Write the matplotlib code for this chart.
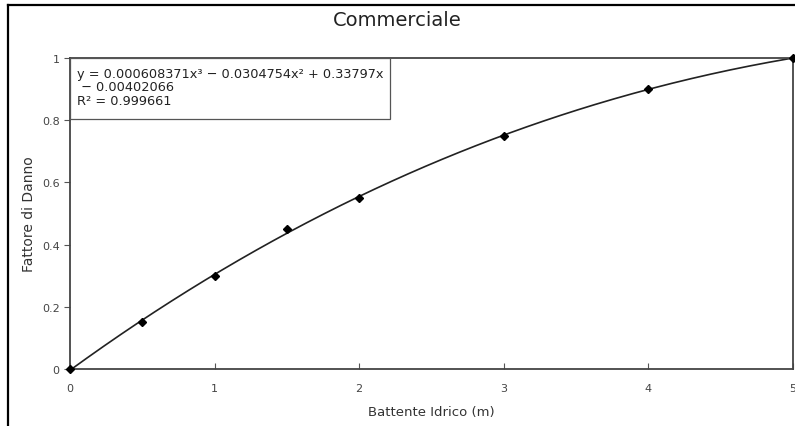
import numpy as np
import matplotlib.pyplot as plt
from matplotlib.lines import Line2D
from matplotlib.patches import Rectangle

# dati
battente = [0, 0.5, 1, 1.5, 2, 3, 4, 5]
fattore = [0, 0.15, 0.3, 0.45, 0.55, 0.75, 0.9, 1.0]
coeff = [0.000608371, -0.0304754, 0.33797, -0.00402066]
r2 = 0.999661
x_ticks = [0, 1, 2, 3, 4, 5]
y_ticks = [0, 0.2, 0.4, 0.6, 0.8, 1]

plt.rcParams['font.family'] = 'DejaVu Sans'

fig = plt.figure(figsize=(7.95, 4.27), dpi=100)
ax = fig.add_axes([0.088, 0.1335, 0.9095, 0.7283])

# cornice dello screenshot
fig.add_artist(Line2D([0.0105, 0.0105], [0, 0.986], transform=fig.transFigure,
                      color='black', lw=1.6))
fig.add_artist(Line2D([0.0105, 1.0], [0.986, 0.986], transform=fig.transFigure,
                      color='black', lw=1.6))

xs = np.linspace(0, 5, 300)
ax.plot(xs, np.polyval(coeff, xs), color='#222222', lw=1.2, zorder=2)
ax.plot(battente, fattore, 'D', color='black', ms=4, zorder=3, clip_on=False)

ax.set_xlim(0, 5)
ax.set_ylim(0, 1)
ax.set_xticks(x_ticks)
ax.set_xticklabels([str(t) for t in x_ticks])
ax.set_yticks(y_ticks)
ax.set_yticklabels(['0', '0.2', '0.4', '0.6', '0.8', '1'])
ax.tick_params(axis='x', direction='in', length=4, colors='#555555',
               labelsize=8, labelcolor='#444444', pad=10)
ax.tick_params(axis='y', direction='out', length=4, colors='#555555',
               labelsize=8, labelcolor='#444444')
for s in ax.spines.values():
    s.set_color('#444444')
    s.set_linewidth(1.3)

fig.text(0.5, 0.953, 'Commerciale', fontsize=14, color='#222222',
         ha='center', va='center')
ax.set_xlabel('Battente Idrico (m)', fontsize=9.5, color='#333333', labelpad=9)
ax.set_ylabel('Fattore di Danno', fontsize=10, color='#333333')
ax.yaxis.set_label_coords(-0.047, 0.5)

# riquadro dell'equazione
ax.add_patch(Rectangle((0, 0.804), 0.4426, 0.196, transform=ax.transAxes,
                       fc='white', ec='#555555', lw=0.9, zorder=4))
eq = ('y = %g' % coeff[0] + 'x³ − %g' % -coeff[1] + 'x² + %g' % coeff[2] + 'x\n'
      + ' − %g' % -coeff[3] + '\nR² = %g' % r2)
ax.text(0.0097, 0.972, eq, transform=ax.transAxes, va='top', ha='left',
        fontsize=9.3, color='#222222', linespacing=1.05, zorder=5)

fig.savefig('out.png', dpi=100)
